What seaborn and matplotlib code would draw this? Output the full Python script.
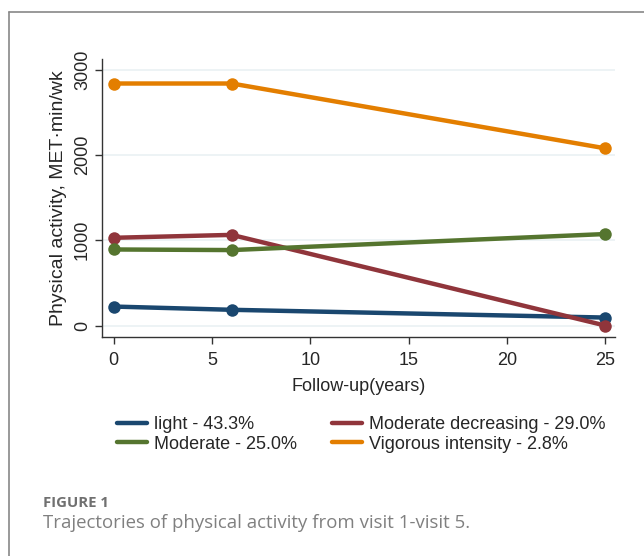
import numpy as np
import pandas as pd
import matplotlib
matplotlib.use('Agg')
import matplotlib.pyplot as plt
import seaborn as sns
from matplotlib.lines import Line2D

years = [0, 6, 25]
groups = ['light - 43.3%', 'Moderate decreasing - 29.0%', 'Moderate - 25.0%', 'Vigorous intensity - 2.8%']
light = [223, 185, 94]
mod_decreasing = [1029, 1063, 0]
moderate = [892, 885, 1073]
vigorous = [2837, 2837, 2077]
colors = ['#1a476f', '#90353b', '#55752f', '#e37e00']

sns.set_style('white')
plt.rcParams['font.family'] = ['Liberation Sans', 'DejaVu Sans']

rows = []
for g, vals in zip(groups, [light, mod_decreasing, moderate, vigorous]):
    for x, v in zip(years, vals):
        rows.append({'year': x, 'pa': v, 'group': g})
df = pd.DataFrame(rows)

fig = plt.figure(figsize=(6.44, 5.56), dpi=100)
ax = fig.add_axes([0.1584, 0.394, 0.797, 0.500])

for v in [0, 1000, 2000, 3000]:
    ax.axhline(v, color='#eaf1f3', lw=1.2, zorder=0)

sns.lineplot(data=df, x='year', y='pa', hue='group', hue_order=groups,
             palette=colors, marker='o', markersize=9, markeredgewidth=0,
             linewidth=3.2, legend=False, ax=ax)

ax.set_xlim(-0.6, 25.5)
ax.set_ylim(-133, 3125)
ax.set_xticks([0, 5, 10, 15, 20, 25])
ax.set_yticks([0, 1000, 2000, 3000])
ax.tick_params(axis='both', direction='out', length=5, width=1, color='#333333',
               labelsize=13, bottom=True, left=True)
ax.tick_params(axis='x', pad=6)
ax.tick_params(axis='y', pad=3)
for lab in ax.get_yticklabels():
    lab.set_rotation(90)
    lab.set_va('center')
ax.set_xlabel('Follow-up(years)', fontsize=13, labelpad=6)
ax.set_ylabel('Physical activity, MET·min/wk', fontsize=14, labelpad=5)
sns.despine(ax=ax)
for s in ['left', 'bottom']:
    ax.spines[s].set_color('#333333')
    ax.spines[s].set_linewidth(1)

# legend: column-wise order
order = [0, 2, 1, 3]
handles = [Line2D([], [], color=colors[i], lw=3.2) for i in order]
labels = [groups[i] for i in order]
fig.legend(handles, labels, ncol=2, loc='upper left', bbox_to_anchor=(0.182, 0.252),
           frameon=False, fontsize=13, handlelength=1.65, handletextpad=0.4,
           columnspacing=1.95, labelspacing=0.15, borderaxespad=0, borderpad=0)

# outer panel border (left and top)
fig.add_artist(Line2D([9 / 644, 9 / 644], [0, 1 - 12 / 556], color='#888888', lw=1.2,
                      transform=fig.transFigure))
fig.add_artist(Line2D([9 / 644, 1], [1 - 12 / 556, 1 - 12 / 556], color='#888888', lw=1.2,
                      transform=fig.transFigure))

fig.text(43 / 644, 1 - 503 / 556, 'FIGURE 1', fontsize=10.7, fontweight='bold',
         color='#707070', family=['Open Sans', 'DejaVu Sans'], va='center')
fig.text(43 / 644, 1 - 523 / 556, 'Trajectories of physical activity from visit 1-visit 5.',
         fontsize=13.4, color='#808080', family=['Open Sans', 'DejaVu Sans'], va='center')

fig.savefig('out.png', dpi=100)
